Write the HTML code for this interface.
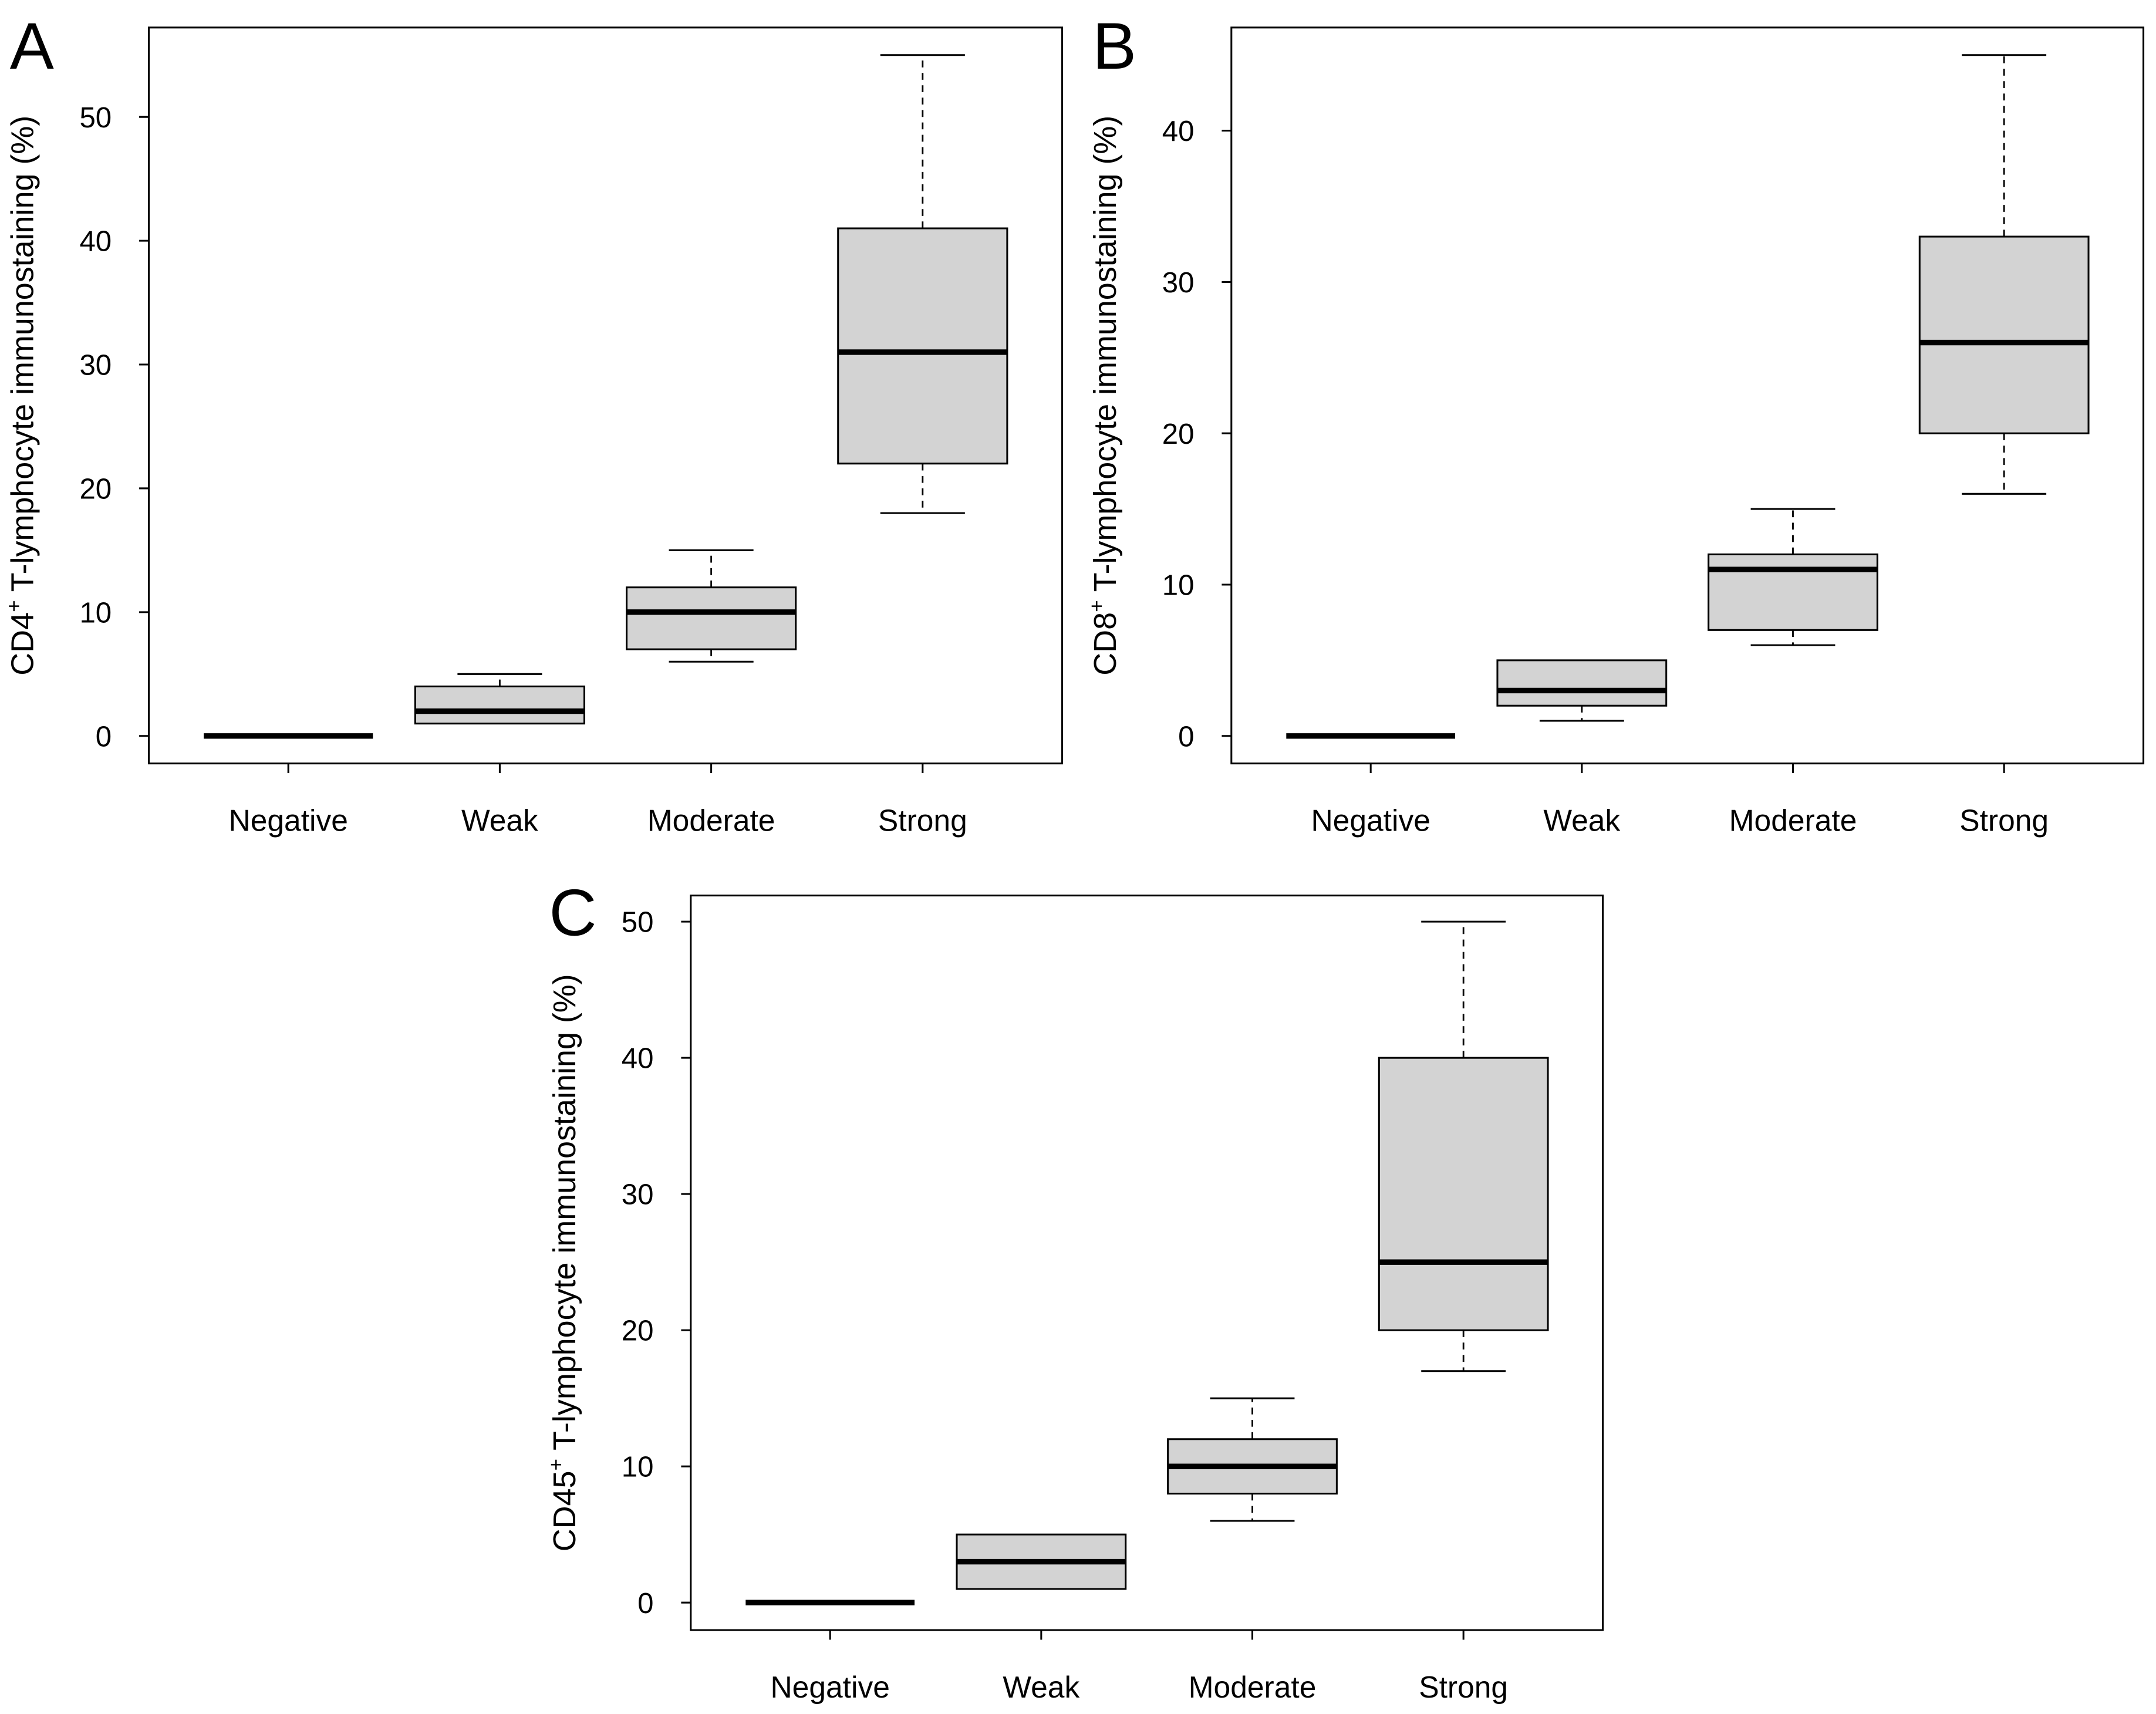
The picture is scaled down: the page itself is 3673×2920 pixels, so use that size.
<!DOCTYPE html>
<html><head><meta charset="utf-8"><style>
html,body{margin:0;padding:0;background:#fff;}
svg{display:block;}
text{font-family:"Liberation Sans",Arial,sans-serif;fill:#000;}
</style></head><body>
<svg id="fig" width="3673" height="2920" viewBox="0 0 1567 1246" xmlns="http://www.w3.org/2000/svg"></svg>
<script>
const categories = ["Negative","Weak","Moderate","Strong"];
const aMin=[0,1,6,18], aQ1=[0,1,7,22], aMed=[0,2,10,31], aQ3=[0,4,12,41], aMax=[0,5,15,55];
const bMin=[0,1,6,16], bQ1=[0,2,7,20], bMed=[0,3,11,26], bQ3=[0,5,12,33], bMax=[0,5,15,45];
const cMin=[0,1,6,17], cQ1=[0,1,8,20], cMed=[0,3,10,25], cQ3=[0,5,12,40], cMax=[0,5,15,50];
const aTicks=[0,10,20,30,40,50], bTicks=[0,10,20,30,40], cTicks=[0,10,20,30,40,50];

const NS="http://www.w3.org/2000/svg";
const svg=document.getElementById('fig');
function mk(tag,attrs,parent){const e=document.createElementNS(NS,tag);for(const k in attrs)e.setAttribute(k,attrs[k]);(parent||svg).appendChild(e);return e;}

function panel(id,letter,lx,ly,box,y0v,y1v,py0,py1,mn,q1,md,q3,mx,ticks,sup){
  const g=mk('g',{});
  
  
  const [L,T,R,B]=box;
  const y=v=>py0+(v-y0v)*(py1-py0)/(y1v-y0v);
  const step=(R-L)/4.32;
  const x=i=>L+step*(0.66+i);
  const bw=step*0.8;
  const lt=mk('text',{x:lx,y:ly,'font-size':48},g);lt.textContent=letter;
  
  
  const fr=mk('rect',{x:L,y:T,width:R-L,height:B-T,fill:'none',stroke:'#000','stroke-width':1.3},g);
  
  
  ticks.forEach(t=>{
    mk('line',{x1:L-7,x2:L,y1:y(t),y2:y(t),stroke:'#000','stroke-width':1.3},g);
    const tx=mk('text',{x:L-27,y:y(t)+7.5,'font-size':21,'text-anchor':'end'},g);tx.textContent=t;
    
    
  });
  const cy=(T+B)/2;
  const yt=mk('text',{x:0,y:0,'font-size':23,'text-anchor':'middle',transform:`translate(${L-84},${cy}) rotate(-90)`},g);
  yt.innerHTML='CD'+sup+'<tspan dy="-9" font-size="15">+</tspan><tspan dy="9"> T-lymphocyte immunostaining (%)</tspan>';
  
  
  categories.forEach((c,i)=>{
    const cx=x(i);
    mk('line',{x1:cx,x2:cx,y1:B,y2:B+7,stroke:'#000','stroke-width':1.3},g);
    const ct=mk('text',{x:cx,y:B+49,'font-size':22,'text-anchor':'middle'},g);ct.textContent=c;
    
    
    const bg=mk('g',{},g);
    
    
    if(mx[i]>q3[i]){
      mk('line',{x1:cx,x2:cx,y1:y(q3[i]),y2:y(mx[i]),stroke:'#000','stroke-width':1.2,'stroke-dasharray':'5,4'},bg);
      mk('line',{x1:cx-bw/4,x2:cx+bw/4,y1:y(mx[i]),y2:y(mx[i]),stroke:'#000','stroke-width':1.3},bg);
    }
    if(mn[i]<q1[i]){
      mk('line',{x1:cx,x2:cx,y1:y(q1[i]),y2:y(mn[i]),stroke:'#000','stroke-width':1.2,'stroke-dasharray':'5,4'},bg);
      mk('line',{x1:cx-bw/4,x2:cx+bw/4,y1:y(mn[i]),y2:y(mn[i]),stroke:'#000','stroke-width':1.3},bg);
    }
    if(q3[i]>q1[i]) mk('rect',{x:cx-bw/2,y:y(q3[i]),width:bw,height:y(q1[i])-y(q3[i]),fill:'#d3d3d3',stroke:'#000','stroke-width':1.3},bg);
    mk('line',{x1:cx-bw/2,x2:cx+bw/2,y1:y(md[i]),y2:y(md[i]),stroke:'#000','stroke-width':4},bg);
  });
}
panel('a','A',7,50,[108,20,772,555],0,50,535,85,aMin,aQ1,aMed,aQ3,aMax,aTicks,'4');
panel('b','B',794,50,[895,20,1558,555],0,40,535,95,bMin,bQ1,bMed,bQ3,bMax,bTicks,'8');
panel('c','C',399,680,[502,651,1165,1185],0,50,1165,670,cMin,cQ1,cMed,cQ3,cMax,cTicks,'45');
</script>
</body></html>
